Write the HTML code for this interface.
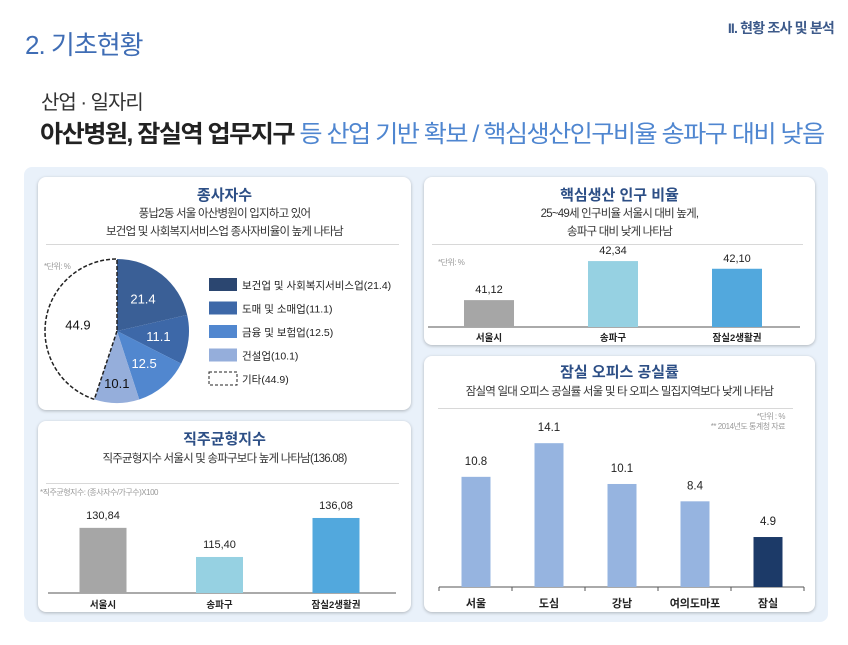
<!DOCTYPE html>
<html><head><meta charset="utf-8">
<style>
*{margin:0;padding:0;box-sizing:border-box}
body{width:848px;height:645px;background:#fff;font-family:"Liberation Sans","Noto Sans CJK KR",sans-serif;position:relative;overflow:hidden}
.abs{position:absolute}
.card{position:absolute;background:#fff;border-radius:8px;box-shadow:0 1px 3px rgba(0,0,0,.25)}
.ct{position:absolute;left:0;right:0;text-align:center;color:#2d4f86;font-weight:bold;font-size:15px}
.cs{position:absolute;left:0;right:0;text-align:center;color:#333;font-size:11.5px;letter-spacing:-0.8px;line-height:18px}
.hr{position:absolute;height:1px;background:#d8d8d8}
.note{position:absolute;font-size:8px;color:#999;letter-spacing:-0.5px}
svg text{font-family:"Liberation Sans","Noto Sans CJK KR",sans-serif}
</style></head><body>
<div class="abs" style="left:25px;top:25px;font-size:26px;color:#3f6db5;letter-spacing:-1px">2. 기초현황</div>
<div class="abs" style="right:14px;top:18px;font-size:14px;color:#3d5a8a;font-weight:bold;letter-spacing:-0.8px">II. 현황 조사 및 분석</div>
<div class="abs" style="left:41px;top:86px;font-size:20px;color:#333;letter-spacing:-1px">산업 · 일자리</div>
<div class="abs" style="left:40px;top:114px;font-size:24px;font-weight:bold;color:#222;letter-spacing:-1.5px;white-space:nowrap;transform:scaleX(1.05);transform-origin:0 0">아산병원, 잠실역 업무지구 <span style="color:#4f86d0;font-weight:normal">등 산업 기반 확보 / 핵심생산인구비율 송파구 대비 낮음</span></div>
<div class="abs" style="left:24px;top:167px;width:804px;height:455px;background:#e9f1fa;border-radius:8px"></div>

<div class="card" style="left:38px;top:177px;width:373px;height:233px">
<div class="ct" style="top:7px">종사자수</div>
<div class="cs" style="top:28px">풍납2동 서울 아산병원이 입지하고 있어<br>보건업 및 사회복지서비스업 종사자비율이 높게 나타남</div>
<div class="hr" style="left:8px;right:12px;top:67px"></div>
<div class="note" style="left:6px;top:84px">*단위: %</div>
</div>
<svg class="abs" id="pie" style="left:0;top:0" width="420" height="420"></svg>

<div class="card" style="left:424px;top:177px;width:391px;height:168px">
<div class="ct" style="top:7px">핵심생산 인구 비율</div>
<div class="cs" style="top:28px">25~49세 인구비율 서울시 대비 높게,<br>송파구 대비 낮게 나타남</div>
<div class="hr" style="left:8px;right:12px;top:67px"></div>
<div class="note" style="left:14px;top:80px">*단위: %</div>
</div>

<div class="card" style="left:38px;top:421px;width:373px;height:191px">
<div class="ct" style="top:7px">직주균형지수</div>
<div class="cs" style="top:29px">직주균형지수 서울시 및 송파구보다 높게 나타남(136.08)</div>
<div class="hr" style="left:8px;right:12px;top:62px"></div>
<div class="note" style="left:2px;top:66px">*직주균형지수: (종사자수/가구수)X100</div>
</div>

<div class="card" style="left:424px;top:356px;width:391px;height:256px">
<div class="ct" style="top:5px">잠실 오피스 공실률</div>
<div class="cs" style="top:27px">잠실역 일대 오피스 공실률 서울 및 타 오피스 밀집지역보다 낮게 나타남</div>
<div class="hr" style="left:14px;right:22px;top:52px"></div>
<div class="note" style="right:30px;top:56px;text-align:right;line-height:10px">*단위 : %<br>** 2014년도 통계청 자료</div>
</div>
<svg class="abs" id="bars" style="left:0;top:0" width="848" height="645"></svg>

<script>
const pieLabels=["보건업 및 사회복지서비스업","도매 및 소매업","금융 및 보험업","건설업","기타"];
const pieValues=[21.4,11.1,12.5,10.1,44.9];
const popCats=["서울시","송파구","잠실2생활권"];
const popVals=[41.12,42.34,42.10];
const balCats=["서울시","송파구","잠실2생활권"];
const balVals=[130.84,115.40,136.08];
const vacCats=["서울","도심","강남","여의도마포","잠실"];
const vacVals=[10.8,14.1,10.1,8.4,4.9];

const NS="http://www.w3.org/2000/svg";
function mk(svg,tag,a,txt){const e=document.createElementNS(NS,tag);for(const k in a)e.setAttribute(k,a[k]);if(txt!=null)e.textContent=txt;svg.appendChild(e);return e;}

(function(){
const svg=document.getElementById('pie');
const cx=117,cy=331,r=72;
const cols=["#3a5f96","#3d68a8","#5187cf","#95aedb","#ffffff"];
const legCols=["#2b4670","#3d68a8","#5187cf","#95aedb","#ffffff"];
const tot=pieValues.reduce((a,b)=>a+b,0);
let a0=0;
pieValues.forEach((v,i)=>{
 const a1=a0+v/tot*2*Math.PI;
 const p=t=>[cx+r*Math.sin(t),cy-r*Math.cos(t)];
 const [x0,y0]=p(a0),[x1,y1]=p(a1);
 const big=(a1-a0)>Math.PI?1:0;
 const last=i===pieValues.length-1;
 const s=mk(svg,'path',{d:`M${cx},${cy}L${x0},${y0}A${r},${r} 0 ${big} 1 ${x1},${y1}Z`,fill:cols[i],stroke:last?'#222':'none','stroke-width':last?1.5:0,'stroke-dasharray':last?'4,2':''});
 
 
 const am=(a0+a1)/2,lr=last?r*0.55:(i===3?r*0.72:r*0.58);
 const t=mk(svg,'text',{x:cx+lr*Math.sin(am),y:cy-lr*Math.cos(am)+5,'text-anchor':'middle','font-size':13,fill:(i>=3)?'#111':'#fff'},pieValues[i].toFixed(1));
 
 
 a0=a1;
});
pieLabels.forEach((l,i)=>{
 const y=278+i*23.5;
 const sw=mk(svg,'rect',{x:209,y:y,width:28,height:13,fill:legCols[i],stroke:i===4?'#222':'none','stroke-dasharray':i===4?'3,2':''});
 
 
 const t=mk(svg,'text',{x:242,y:y+11,'font-size':10.5,fill:'#222'},l+'('+pieValues[i]+')');
 
 
});
})();

function barChart(svg,cats,vals,o){
 const y=v=>o.base-(v-o.min)*o.k;
 mk(svg,'line',{x1:o.x0,x2:o.x1,y1:o.base,y2:o.base,stroke:'#555','stroke-width':1});
 if(o.ticks){const n=cats.length+1;for(let i=0;i<n;i++){const tx=o.x0+i*(o.x1-o.x0)/cats.length;mk(svg,'line',{x1:tx,x2:tx,y1:o.base,y2:o.base+4,stroke:'#555'});}}
 cats.forEach((c,i)=>{
  const cx=o.xs(i),top=y(vals[i]);
  const b=mk(svg,'rect',{x:cx-o.w/2,y:top,width:o.w,height:o.base-top,fill:o.cols[i]});
  
  
  const t=mk(svg,'text',{x:cx,y:top-o.gap,'text-anchor':'middle','font-size':o.fs,fill:'#222'},o.fmt(vals[i]));
  
  
  const l=mk(svg,'text',{x:cx,y:o.base+o.ly,'text-anchor':'middle','font-size':o.lfs,fill:'#222','font-weight':'bold'},c);
  
  
 });
}
const svg=document.getElementById('bars');
barChart(svg,popCats,popVals,{name:'core-pop',base:327,min:40.28,k:32,x0:428,x1:800,xs:i=>489+i*124,w:50,cols:['#a6a6a6','#96d1e2','#52a8dd'],gap:7,fs:11,fmt:v=>v.toFixed(2).replace('.',','),ly:14,lfs:9.5});
barChart(svg,balCats,balVals,{name:'balance',base:593,min:96.3,k:1.886,x0:48,x1:396,xs:i=>103+i*116.5,w:47,cols:['#a6a6a6','#96d1e2','#52a8dd'],gap:9,fs:11,fmt:v=>v.toFixed(2).replace('.',','),ly:15,lfs:9.5});
barChart(svg,vacCats,vacVals,{name:'vacancy',base:587,min:0,k:10.2,x0:439,x1:804,xs:i=>476+i*73,w:29,cols:['#96b4e0','#96b4e0','#96b4e0','#96b4e0','#1c3a68'],gap:12,fs:11.5,fmt:v=>v.toFixed(1),ly:20,lfs:11,ticks:true});
</script>
</body></html>
